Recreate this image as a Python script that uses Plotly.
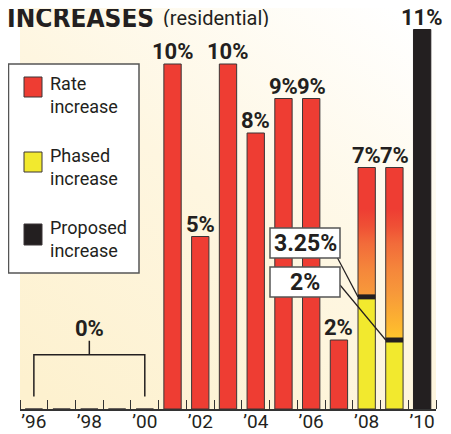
import base64
import plotly.graph_objects as go

# ---------------- data ----------------
years = list(range(1996, 2011))
rate_increase = [0, 0, 0, 0, 0, 10, 5, 10, 8, 9, 9, 2, None, None, None]
phased_years = [2008, 2009]
phased_increase = [3.25, 2]
phased_total = [7, 7]
proposed_years = [2010]
proposed_increase = [11]
tick_years = [1996, 1998, 2000, 2002, 2004, 2006, 2008, 2010]
tick_labels = ["\u201996", "\u201998", "\u201900", "\u201902", "\u201904", "\u201906", "\u201908", "\u201910"]
zero_span = [1996, 2000]
zero_label = "0%"

# ---------------- style ----------------
RED = "#EE3D33"
YELLOW = "#F2E92E"
BLACK = "#231F20"
OUTLINE = "#3A3536"
TXT = "Roboto, Liberation Sans, sans-serif"
HEAVY = "DejaVu Sans Condensed, DejaVu Sans, sans-serif"
BAR_W = 0.625
PX_PER_PCT = 34.5
GRADIENT = [[0, "#FEC62C"], [0.105, "#FDB72F"], [0.355, "#F7993A"], [0.526, "#F5883B"],
            [0.737, "#F26B3A"], [0.868, "#EF5035"], [1, RED]]

# page geometry (the page body adds an 8px offset around the figure)
OFF = 8
W, H = 451 - OFF, 434 - OFF
PLOT_L, PLOT_R, PLOT_T, PLOT_B = 20, 436, OFF, 409   # page pixels
ML, MR, MT, MB = PLOT_L - OFF, (W + OFF) - PLOT_R, PLOT_T - OFF, (H + OFF) - PLOT_B
PW, PH = PLOT_R - PLOT_L, PLOT_B - PLOT_T


def px(x):
    return (x - PLOT_L) / PW


def py(y):
    return (PLOT_B - y) / PH


fig = go.Figure()

fig.add_trace(go.Bar(x=years, y=rate_increase, width=BAR_W,
                     marker=dict(color=RED, line=dict(color=OUTLINE, width=1)),
                     showlegend=False, hoverinfo="skip"))
fig.add_trace(go.Bar(x=phased_years, y=phased_increase, width=BAR_W,
                     marker=dict(color=YELLOW, line=dict(color=OUTLINE, width=1)),
                     showlegend=False, hoverinfo="skip"))
fig.add_trace(go.Bar(x=proposed_years, y=proposed_increase, width=BAR_W,
                     marker=dict(color=BLACK, line=dict(color=BLACK, width=1)),
                     showlegend=False, hoverinfo="skip"))

for yr, lo, hi in zip(phased_years, phased_increase, phased_total):
    x0, x1 = yr - BAR_W / 2, yr + BAR_W / 2
    fig.add_trace(go.Scatter(
        x=[x0, x1, x1, x0, x0], y=[lo, lo, hi, hi, lo], mode="lines", fill="toself",
        fillgradient=dict(type="vertical", start=2.0, stop=5.8, colorscale=GRADIENT),
        line=dict(color=OUTLINE, width=1), showlegend=False, hoverinfo="skip"))
    fig.add_trace(go.Scatter(x=[x0, x1], y=[lo, lo], mode="lines", line=dict(color=BLACK, width=5),
                             showlegend=False, hoverinfo="skip"))

shapes = []
annotations = []

# value labels above the bars
lab_x, lab_y = [], []
for yr, v in zip(years, rate_increase):
    if v:
        lab_x.append(yr); lab_y.append(v)
lab_x += phased_years; lab_y += phased_total
lab_x += proposed_years; lab_y += proposed_increase
for xv, yv in zip(lab_x, lab_y):
    annotations.append(dict(x=xv, y=yv, xref="x", yref="y", text=f"{yv:g}%", showarrow=False,
                            xanchor="center", yanchor="middle", height=16, yshift=13,
                            font=dict(family=TXT, size=22, color=BLACK, weight="bold")))

bl, br = zero_span
bm = (bl + br) / 2
shapes.append(dict(type="path", xref="x", yref="y",
                   path=f"M{bl},0.36 L{bl},1.57 L{br},1.57 L{br},0.36 M{bm},1.57 L{bm},1.98",
                   line=dict(color=BLACK, width=1.5)))
annotations.append(dict(x=bm, y=1.98, xref="x", yref="y", text=zero_label, showarrow=False,
                        xanchor="center", yanchor="middle", height=16, yshift=13,
                        font=dict(family=TXT, size=22, color=BLACK, weight="bold")))

# callout boxes for the phased values
boxes = [(270, 228, 340, 258), (270, 267, 340, 297)]
starts = [(337, 257), (340, 285)]
for (bx0, by0, bx1, by1), (sx, sy), yr, v in zip(boxes, starts, phased_years, phased_increase):
    shapes.append(dict(type="line", xref="paper", yref="paper", x0=px(sx), y0=py(sy),
                       x1=(yr - BAR_W / 2 - 1995.5) / 15, y1=v * PX_PER_PCT / PH,
                       line=dict(color=BLACK, width=1.2), layer="above"))
    shapes.append(dict(type="rect", xref="paper", yref="paper", x0=px(bx0), y0=py(by1), x1=px(bx1), y1=py(by0),
                       fillcolor="white", line=dict(color="#555", width=1.5), layer="above"))
    annotations.append(dict(x=px((bx0 + bx1) / 2), y=py((by0 + by1) / 2), xref="paper", yref="paper",
                            text=f"{v:g}%", showarrow=False, xanchor="center", yanchor="middle",
                            font=dict(family=TXT, size=23, color=BLACK, weight="bold")))

# legend
shapes.append(dict(type="rect", xref="paper", yref="paper", x0=px(8.5), y0=py(273), x1=px(139), y1=py(64),
                   fillcolor="white", line=dict(color="#555", width=1.5), layer="above"))
legend_items = [("Rate<br>increase", RED, 77, 97, 95), ("Phased<br>increase", YELLOW, 152, 172, 167),
                ("Proposed<br>increase", BLACK, 224, 245, 238.5)]
for txt, col, s0, s1, tc in legend_items:
    shapes.append(dict(type="rect", xref="paper", yref="paper", x0=px(24), y0=py(s1), x1=px(42), y1=py(s0),
                       fillcolor=col, line=dict(color=OUTLINE, width=1), layer="above"))
    annotations.append(dict(x=px(48), y=py(tc), xref="paper", yref="paper", text=txt, showarrow=False,
                            xanchor="left", yanchor="middle", align="left",
                            font=dict(family=TXT, size=18, color=BLACK)))

# title
annotations.append(dict(x=px(5), y=py(17.5), xref="paper", yref="paper", text="INCREASES", showarrow=False,
                        xanchor="left", yanchor="middle", height=18,
                        font=dict(family=HEAVY, size=26, color=BLACK, weight="bold")))
annotations.append(dict(x=px(161), y=py(17.5), xref="paper", yref="paper", text="(residential)",
                        showarrow=False, xanchor="left", yanchor="middle", height=18,
                        font=dict(family=TXT, size=20, color=BLACK)))

svg = ('<svg xmlns="http://www.w3.org/2000/svg" width="100" height="100" viewBox="0 0 100 100" '
       'preserveAspectRatio="none"><defs><linearGradient id="g" x1="0.1" y1="1" x2="0.9" y2="0">'
       '<stop offset="0" stop-color="#FDF1CF"/><stop offset="0.5" stop-color="#FEF6E0"/>'
       '<stop offset="1" stop-color="#FFFFFF"/></linearGradient></defs>'
       '<rect width="100" height="100" fill="url(#g)"/></svg>')
src = "data:image/svg+xml;base64," + base64.b64encode(svg.encode()).decode()

fig.update_layout(
    width=W, height=H, margin=dict(l=ML, r=MR, t=MT, b=MB, autoexpand=False),
    paper_bgcolor="white", plot_bgcolor="rgba(0,0,0,0)",
    barmode="overlay", showlegend=False,
    shapes=shapes, annotations=annotations,
    images=[dict(source=src, xref="paper", yref="paper", x=0, y=1, sizex=1, sizey=1,
                 xanchor="left", yanchor="top", sizing="stretch", layer="below")],
    xaxis=dict(range=[1995.5, 2010.5], tickmode="array", tickvals=tick_years, ticktext=tick_labels,
               ticks="", showgrid=False, zeroline=False, showline=True, linecolor="#333", linewidth=1.5,
               ticklabelstandoff=-6,
               tickfont=dict(family=TXT, size=19, color=BLACK),
               minor=dict(tickmode="array", tickvals=[y - 0.5 for y in years] + [years[-1] + 0.5],
                          ticks="inside", ticklen=9, tickwidth=1.2, tickcolor="#333", showgrid=False)),
    yaxis=dict(range=[0, PH / PX_PER_PCT], visible=False),
)

fig.write_html("out.html")
